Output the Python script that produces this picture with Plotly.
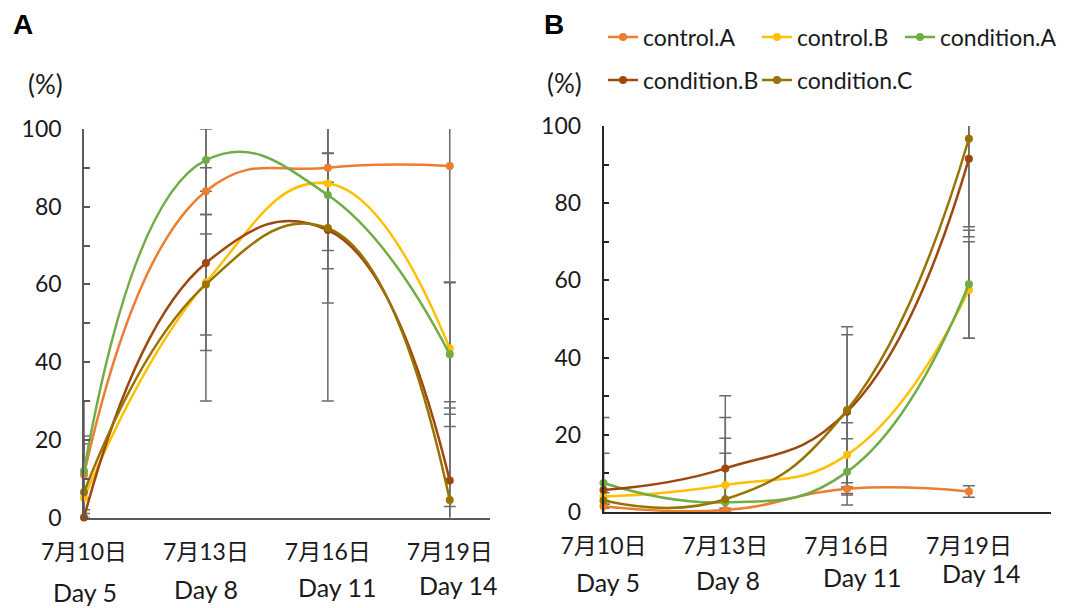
import plotly.graph_objects as go

# ---------------- data ----------------
days = [0, 1, 2, 3]
date_labels = ["7月10日", "7月13日", "7月16日", "7月19日"]
day_labels = ["Day 5", "Day 8", "Day 11", "Day 14"]
series_names = ["control.A", "control.B", "condition.A", "condition.B", "condition.C"]

# Panel A (%)
a_control_A = [11, 84, 90, 90.5]
a_control_B = [5, 60.5, 86, 43.5]
a_condition_A = [12, 92, 83, 42]
a_condition_B = [0, 65.5, 74, 9.5]
a_condition_C = [6.5, 60, 74.5, 4.5]
a_err_control_A = [10, 6, 3.7, 87.7]
a_err_control_B = [3, 17.5, 17.3, 16.9]
a_err_condition_A = [7, 8, 19, 18.6]
a_err_condition_B = [0, 35.5, 44, 20.3]
a_err_condition_C = [23.5, 13, 19.3, 23.7]

# Panel B (%)
b_control_A = [1.5, 0.5, 6, 5.3]
b_control_B = [4, 7, 14.8, 57.5]
b_condition_A = [7.5, 2.5, 10.4, 59]
b_condition_B = [5.7, 11.3, 26, 91.5]
b_condition_C = [3, 3.3, 26.4, 96.7]
b_err_control_A = [0.5, 0.5, 1.6, 1.5]
b_err_control_B = [1, 17.5, 8.3, 12.5]
b_err_condition_A = [7.7, 12.7, 8.6, 14]
b_err_condition_B = [18.8, 18.8, 19.9, 20.2]
b_err_condition_C = [1, 15.8, 21.6, 22.8]

# ---------------- style ----------------
colors = ["#ED7D31", "#FFC000", "#70AD47", "#9E480E", "#997300"]
FONT = "Lato, 'Noto Sans CJK JP', sans-serif"
FS = 23
FS_DAY = 25
FS_PCT = 26
W, H = 1075, 608
OFF = 8  # page body margin
ERR_COLOR = "#6b6b6b"
TXT = "#1a1a1a"

panel_a = [a_control_A, a_control_B, a_condition_A, a_condition_B, a_condition_C]
panel_a_err = [a_err_control_A, a_err_control_B, a_err_condition_A, a_err_condition_B, a_err_condition_C]
panel_b = [b_control_A, b_control_B, b_condition_A, b_condition_B, b_condition_C]
panel_b_err = [b_err_control_A, b_err_control_B, b_err_condition_A, b_err_condition_B, b_err_condition_C]

fig = go.Figure()

def add_panel(vals, errs, xa, ya, legend_on):
    for v, e in zip(vals, errs):
        fig.add_trace(go.Scatter(
            x=days, y=v, mode="markers", xaxis=xa, yaxis=ya,
            marker=dict(size=2, opacity=0), showlegend=False, hoverinfo="skip",
            error_y=dict(type="data", array=e, symmetric=True, color=ERR_COLOR,
                         thickness=1.5, width=6),
            cliponaxis=True))
    for i, (name, v) in enumerate(zip(series_names, vals)):
        fig.add_trace(go.Scatter(
            x=days, y=v, mode="lines+markers", name=name, xaxis=xa, yaxis=ya,
            line=dict(color=colors[i], width=2.5, shape="spline", smoothing=1.3),
            marker=dict(color=colors[i], size=8),
            showlegend=legend_on, legend=("legend" if i == 0 else f"legend{i+1}"),
            cliponaxis=False))

add_panel(panel_a, panel_a_err, "x", "y", False)
add_panel(panel_b, panel_b_err, "x2", "y2", True)

def px_x(p):
    return (p - OFF) / W

def px_y(p):
    return 1 - (p - OFF) / H

axis_common = dict(showgrid=False, zeroline=False, showline=True, linewidth=1.5,
                   tickfont=dict(family=FONT, size=FS, color=TXT))

def xaxis(domain, rng, lc, anchor):
    return dict(domain=domain, range=rng, anchor=anchor, linecolor=lc,
                tickmode="array", tickvals=days, ticktext=date_labels, ticks="",
                ticklabelstandoff=13, **axis_common)

def yaxis(domain, lc, anchor):
    return dict(domain=domain, range=[0, 100], anchor=anchor, linecolor=lc,
                tickmode="linear", tick0=0, dtick=20, ticks="inside", ticklen=6,
                tickwidth=1.5, tickcolor=lc, ticklabelstandoff=16,
                minor=dict(dtick=10, tick0=0, ticks="inside", ticklen=6, tickwidth=1.5,
                           tickcolor=lc, showgrid=False),
                **axis_common)

layout = dict(
    width=W, height=H, margin=dict(l=0, r=0, t=0, b=0, autoexpand=False),
    paper_bgcolor="white", plot_bgcolor="white",
    font=dict(family=FONT, size=FS, color=TXT),
    xaxis=xaxis([px_x(84), px_x(490)], [0, 3.33], "#595959", "y"),
    yaxis=yaxis([px_y(517.5), px_y(129)], "#595959", "x"),
    xaxis2=xaxis([px_x(603.5), px_x(1050.5)], [0, 3.67], "#262626", "y2"),
    yaxis2=yaxis([px_y(512), px_y(126)], "#262626", "x2"),
)

legend_pos = [(603, 37), (757, 37), (900, 37), (603, 80), (757, 80)]
for i, (lx, ly) in enumerate(legend_pos):
    key = "legend" if i == 0 else f"legend{i+1}"
    layout[key] = dict(x=px_x(lx), y=px_y(ly), xanchor="left", yanchor="middle",
                       orientation="h", bgcolor="rgba(0,0,0,0)", borderwidth=0,
                       font=dict(family=FONT, size=FS, color=TXT), itemwidth=30)

fig.update_layout(**layout)

annotations = []
a_day_shift = [1, 0, 10, 9]
a_day_y = [592, 589, 587, 585]
b_day_shift = [4, 3, 15, 13]
b_day_y = [582, 580, 577, 573]
for i, lab in enumerate(day_labels):
    annotations.append(dict(x=days[i], y=px_y(a_day_y[i]), xref="x", yref="paper", text=lab,
                            showarrow=False, xshift=a_day_shift[i], yanchor="middle",
                            font=dict(family=FONT, size=FS_DAY, color=TXT)))
    annotations.append(dict(x=days[i], y=px_y(b_day_y[i]), xref="x2", yref="paper", text=lab,
                            showarrow=False, xshift=b_day_shift[i], yanchor="middle",
                            font=dict(family=FONT, size=FS_DAY, color=TXT)))

for txt, x, y in [("(%)", 45, 84), ("(%)", 564, 83)]:
    annotations.append(dict(x=px_x(x), y=px_y(y), xref="paper", yref="paper", text=txt,
                            showarrow=False, xanchor="center", yanchor="middle",
                            font=dict(family=FONT, size=FS_PCT, color=TXT)))
for txt, x in [("A", 23), ("B", 554)]:
    annotations.append(dict(x=px_x(x), y=1, xref="paper", yref="paper",
                            text=f"<b>{txt}</b>", showarrow=False, xanchor="center",
                            yanchor="top", borderpad=0,
                            font=dict(family="Liberation Sans, Arial", size=28, color="#000")))

fig.update_layout(annotations=annotations)
fig.write_html("out.html")
